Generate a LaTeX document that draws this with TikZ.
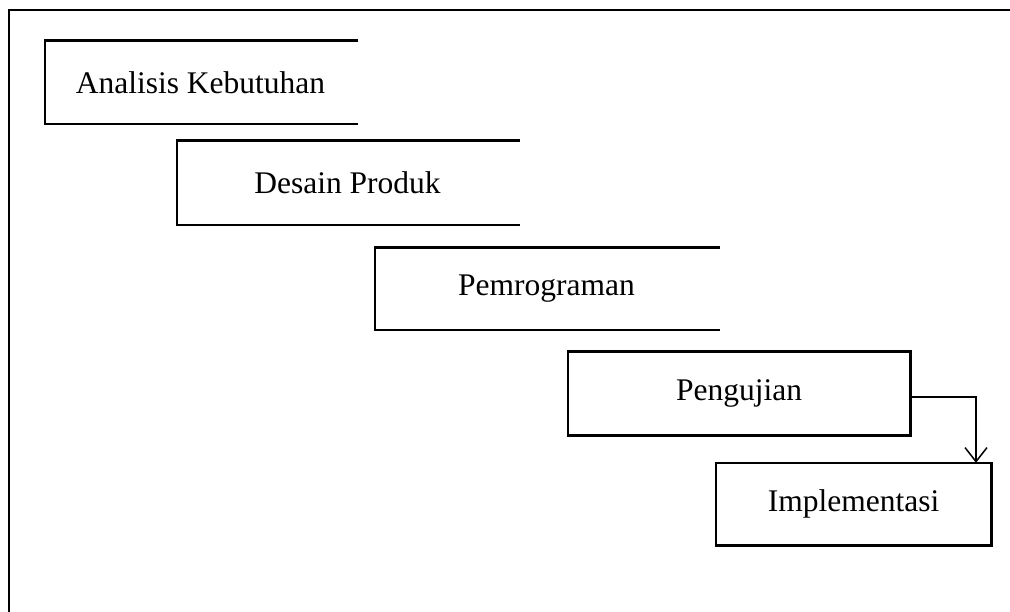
\documentclass[tikz,border=0pt]{standalone}
\usepackage{fontspec}
\setmainfont{Liberation Serif}
\usetikzlibrary{arrows.meta}
\begin{document}
\begin{tikzpicture}[x=1pt,y=-1pt,
  phase/.style={draw=none,inner sep=0pt,font=\fontsize{31.5}{38}\selectfont},
  side/.style={line width=2.6pt,line cap=rect},
  frame/.style={line width=1.4pt},
  flow/.style={line width=1.5pt,-{Straight Barb[length=14pt,width=22pt,line width=1.5pt]}}]
\useasboundingbox (0,0) rectangle (1010,612);
% outer frame (top and left edges)
\coordinate (fl) at (9,612);
\coordinate (ft) at (9,10);
\coordinate (fr) at (1010,10);
\draw[frame] (fl) -- (ft) -- (fr);
% stages of the waterfall
\node[phase,minimum width=311pt,minimum height=83pt] (a) at (200.5,82.5) {Analisis Kebutuhan};
\node[phase,minimum width=341pt,minimum height=84pt] (d) at (347.5,183) {Desain Produk};
\node[phase,minimum width=343pt,minimum height=82pt] (p) at (546.5,289) {Pemrograman};
\node[phase,minimum width=342pt,minimum height=83pt] (u) at (739,393.5) {Pengujian};
\node[phase,minimum width=275pt,minimum height=82pt] (i) at (853.5,504) {Implementasi};
% open-ended boxes
\foreach \n in {a,d,p}
  \draw[side] (\n.north east) -- (\n.north west) -- (\n.south west) -- (\n.south east);
% closed boxes
\draw[side] (u.north west) rectangle (u.south east);
\draw[side] (i.north west) rectangle (i.south east);
% hand-over to implementation
\coordinate (bend) at (976,397);
\draw[flow] (u.east |- bend) -- (bend) -- (bend |- i.north);
\end{tikzpicture}
\end{document}
